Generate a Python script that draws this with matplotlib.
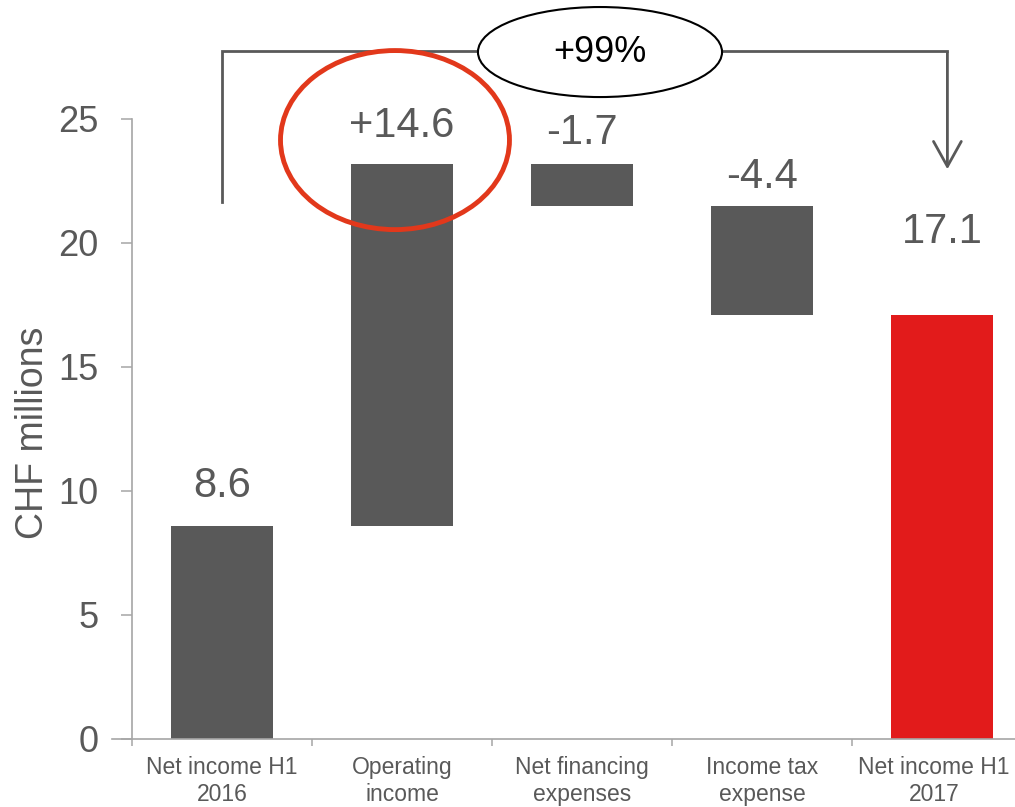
"""
Net income bridge H1 2016 -> H1 2017 (waterfall chart)
"""

import matplotlib
matplotlib.use('Agg')
import matplotlib.pyplot as plt
import matplotlib.transforms as mtransforms
from matplotlib.patches import Ellipse, FancyArrowPatch

#---------------------------------------------------------------------------------------------------
# Data
#---------------------------------------------------------------------------------------------------

categories = ['Net income H1\n2016', 'Operating\nincome', 'Net financing\nexpenses',
              'Income tax\nexpense', 'Net income H1\n2017']
start_value = 8.6
changes = [14.6, -1.7, -4.4]
end_value = 17.1

y_ticks = [0, 5, 10, 15, 20, 25]

#---------------------------------------------------------------------------------------------------
# Styling
#---------------------------------------------------------------------------------------------------

plt.rcParams['font.family'] = ['Liberation Sans', 'DejaVu Sans']

dark_grey = '#595959'
axis_grey = '#A6A6A6'
bar_red = '#E21B1B'
ring_red = '#E2381B'

# gap between bar top and label, in points (PowerPoint placement is not uniform)
label_pad = [14, 13, 8, 6, 45]

#---------------------------------------------------------------------------------------------------
# Build the waterfall
#---------------------------------------------------------------------------------------------------

bottoms = [0.0]
heights = [start_value]
tops = [start_value]
labels = ['%.1f' % start_value]
running = start_value
for c in changes:
    new = running + c
    bottoms.append(min(running, new))
    heights.append(abs(c))
    tops.append(max(running, new))
    labels.append('%+.1f' % c)
    running = new
bottoms.append(0.0)
heights.append(end_value)
tops.append(end_value)
labels.append('%.1f' % end_value)

colors = [dark_grey] * 4 + [bar_red]
x = list(range(len(categories)))

fig = plt.figure(figsize=(10.15, 8.07), dpi=100)
ax = fig.add_axes([112 / 1015, 68 / 807, 920 / 1015, 739 / 807])

ax.bar(x, heights, bottom=bottoms, width=0.57, color=colors, zorder=2)

for xi, top, lab, pad in zip(x, tops, labels, label_pad):
    ax.annotate(lab, (xi, top), xytext=(0, pad), textcoords='offset points',
                ha='center', va='bottom', fontsize=30, color=dark_grey)

# Axes limits and spines
ax.set_xlim(-0.5 - 20 / 180, 4.5)
ax.set_ylim(0, 739 / 24.8)

for side in ['top', 'right']:
    ax.spines[side].set_visible(False)
ax.spines['left'].set_position(('data', -0.5))
ax.spines['left'].set_bounds(0, 25)
ax.spines['left'].set_color(axis_grey)
ax.spines['left'].set_linewidth(1.2)
ax.spines['bottom'].set_color(axis_grey)
ax.spines['bottom'].set_linewidth(1.2)

ax.set_yticks(y_ticks)
ax.tick_params(axis='y', direction='out', length=8, width=1.1, color=axis_grey,
               labelsize=26, labelcolor=dark_grey, pad=16)

ax.set_xticks(x)
ax.set_xticklabels(categories, fontsize=16.5, color=dark_grey, linespacing=1.25)
ax.set_xticks([i - 0.5 for i in range(len(categories) + 1)], minor=True)
ax.tick_params(axis='x', which='major', length=0, pad=12)
ax.tick_params(axis='x', which='minor', direction='out', length=5, width=1.1, color=axis_grey)

# nudge the last category label so it stays inside the figure
last = ax.get_xticklabels()[-1]
last.set_transform(last.get_transform() + mtransforms.ScaledTranslation(-0.08, 0, fig.dpi_scale_trans))

ax.set_ylabel('CHF millions', fontsize=27, color=dark_grey)
ax.yaxis.set_label_coords(-0.066, 0.414)

#---------------------------------------------------------------------------------------------------
# Annotations: growth bracket and highlight ring
#---------------------------------------------------------------------------------------------------

bracket_y = 27.74
ax.plot([0, 0, 4.03], [21.65, bracket_y, bracket_y], color=dark_grey, lw=2,
        solid_joinstyle='miter', clip_on=False, zorder=3)
arrow = FancyArrowPatch((4.03, bracket_y + 0.04), (4.03, 22.86),
                        arrowstyle='->,head_length=0.9,head_width=0.5', mutation_scale=20,
                        color=dark_grey, lw=2, clip_on=False, zorder=3)
ax.add_patch(arrow)

growth = (end_value / start_value - 1) * 100
ax.add_patch(Ellipse((2.1, 27.7), 1.356, 3.63, facecolor='white', edgecolor='black',
                     lw=1.5, clip_on=False, zorder=4))
ax.text(2.1, 27.7, '%+.0f%%' % growth, ha='center', va='center', fontsize=26,
        color='black', zorder=5)

ax.add_patch(Ellipse((0.961, 24.15), 1.272, 7.22, facecolor='none', edgecolor=ring_red,
                     lw=3.5, clip_on=False, zorder=5))

plt.savefig('out.png', dpi=100)
